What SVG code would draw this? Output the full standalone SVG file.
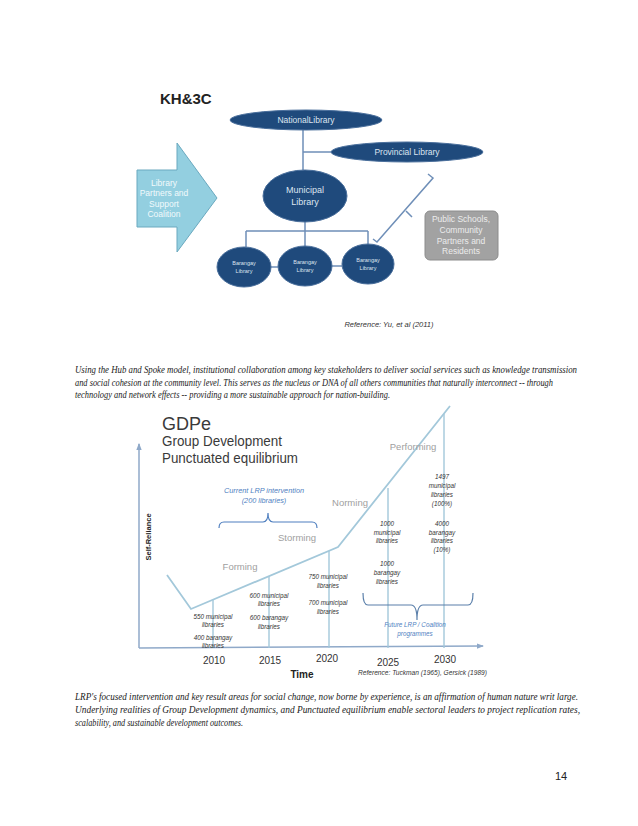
<svg xmlns="http://www.w3.org/2000/svg" width="638" height="826" viewBox="0 0 638 826">
<defs>
<style>
.sans{font-family:"Liberation Sans",Arial,sans-serif}
.ell{fill:#1f4a7c;stroke:#4a6f9c;stroke-width:1}
.elt{font-family:"Liberation Sans",Arial,sans-serif;fill:#dde5f0;text-anchor:middle}
.conn{stroke:#6f8fb8;stroke-width:1.5;fill:none}
.cap{font-family:"Liberation Serif","Times New Roman",serif;font-style:italic;font-size:9.6px;fill:#222}
.stage{font-family:"Liberation Sans",Arial,sans-serif;font-size:9.5px;fill:#a0a0a0;text-anchor:middle}
.note{font-family:"Liberation Sans",Arial,sans-serif;font-style:italic;font-size:6.3px;fill:#333;text-anchor:middle}
.bnote{font-family:"Liberation Sans",Arial,sans-serif;font-style:italic;fill:#4f7fbf;text-anchor:middle}
.yr{font-family:"Liberation Sans",Arial,sans-serif;font-size:10px;fill:#333;text-anchor:middle}
.curve{stroke:#a3c8da;stroke-width:1.8;fill:none}
.vl{stroke:#a3c8da;stroke-width:1.4;fill:none}
.axis{stroke:#8fa9c9;stroke-width:1.5;fill:none}
</style>
<marker id="ah" viewBox="0 0 6 6" refX="5" refY="3" markerWidth="5" markerHeight="5" orient="auto">
<path d="M0,0.8 L6,3 L0,5.2 Z" fill="#8fa9c9"/>
</marker>
</defs>
<rect width="638" height="826" fill="#ffffff"/>

<!-- Top diagram: KH&3C -->
<text x="160" y="104" class="sans" font-size="15" font-weight="bold" fill="#222">KH&amp;3C</text>

<g id="connectors-top">
<path class="conn" d="M303,130 V170 M303,152 H332"/>
<path class="conn" d="M305,222 V231 M246,231 H368 M246,231 V247 M305,231 V246 M368,231 V244"/>
<path class="conn" d="M271,267 H279 M332,266 H342"/>
<path class="conn" d="M373,239 L377,242 L433,178 L428,174 M406,211 L412,217"/>
</g>

<g id="national-library">
<ellipse class="ell" cx="306" cy="120" rx="76" ry="10"/>
<text class="elt" x="306" y="123" font-size="8.5">NationalLibrary</text>
</g>
<g id="provincial-library">
<ellipse class="ell" cx="407" cy="152" rx="76" ry="10"/>
<text class="elt" x="407" y="155" font-size="8.5">Provincial Library</text>
</g>
<g id="municipal-library">
<ellipse class="ell" cx="305" cy="196" rx="42" ry="26"/>
<text class="elt" x="305" y="193" font-size="9">Municipal</text>
<text class="elt" x="305" y="205" font-size="9">Library</text>
</g>
<g id="barangay-1">
<ellipse class="ell" cx="244" cy="267" rx="27" ry="20"/>
<text class="elt" x="244" y="265" font-size="5.5">Barangay</text>
<text class="elt" x="244" y="273" font-size="5.5">Library</text>
</g>
<g id="barangay-2">
<ellipse class="ell" cx="305" cy="266" rx="27" ry="20"/>
<text class="elt" x="305" y="264" font-size="5.5">Barangay</text>
<text class="elt" x="305" y="272" font-size="5.5">Library</text>
</g>
<g id="barangay-3">
<ellipse class="ell" cx="368" cy="264" rx="26" ry="20"/>
<text class="elt" x="368" y="262" font-size="5.5">Barangay</text>
<text class="elt" x="368" y="270" font-size="5.5">Library</text>
</g>

<g id="partners-arrow">
<path d="M137,170 H177 V143 L217,198 L177,252 V227 H137 Z" fill="#93cfe0" stroke="#6aa9bf" stroke-width="1"/>
<text class="elt" x="164" y="186" font-size="8.5" fill="#f2fafc" style="fill:#f2fafc">Library</text>
<text class="elt" x="164" y="196" font-size="8.5" style="fill:#f2fafc">Partners and</text>
<text class="elt" x="164" y="207" font-size="8.5" style="fill:#f2fafc">Support</text>
<text class="elt" x="164" y="217" font-size="8.5" style="fill:#f2fafc">Coalition</text>
</g>

<g id="public-schools">
<rect x="425" y="211" width="73" height="49" rx="5" fill="#a2a2a2" stroke="#8c8c8c" stroke-width="1"/>
<text class="elt" x="461" y="222" font-size="8.5" style="fill:#ececec">Public Schools,</text>
<text class="elt" x="461" y="233" font-size="8.5" style="fill:#ececec">Community</text>
<text class="elt" x="461" y="244" font-size="8.5" style="fill:#ececec">Partners and</text>
<text class="elt" x="461" y="254" font-size="8.5" style="fill:#ececec">Residents</text>
</g>

<text x="389" y="327" class="sans" font-size="7.5" font-style="italic" fill="#333" text-anchor="middle">Reference: Yu, et al (2011)</text>

<!-- Caption 1 -->
<text class="cap" x="75" y="373" textLength="502" lengthAdjust="spacingAndGlyphs">Using the Hub and Spoke model, institutional collaboration among key stakeholders to deliver social services such as knowledge transmission</text>
<text class="cap" x="75" y="386" textLength="478" lengthAdjust="spacingAndGlyphs">and social cohesion at the community level. This serves as the nucleus or DNA of all others communities that naturally interconnect -- through</text>
<text class="cap" x="75" y="398" textLength="315" lengthAdjust="spacingAndGlyphs">technology and network effects --  providing a more sustainable approach for nation-building.</text>

<!-- GDPe chart -->
<text x="162" y="430" class="sans" font-size="18" fill="#3a3a3a">GDPe</text>
<text x="162" y="446" class="sans" font-size="14" fill="#3a3a3a" textLength="120" lengthAdjust="spacingAndGlyphs">Group Development</text>
<text x="162" y="463" class="sans" font-size="14" fill="#3a3a3a" textLength="136" lengthAdjust="spacingAndGlyphs">Punctuated equilibrium</text>

<g id="connectors-chart">
<path class="axis" d="M139,648 V444" marker-end="url(#ah)"/>
<path class="axis" d="M139,648 L483,646" marker-end="url(#ah)"/>
<path class="curve" d="M167,575 L191,609 L338,547 L450,406"/>
<path class="vl" d="M213,600 V648 M269,576 V648 M329,551 V648 M388,488 V648 M444,414 V648"/>
<path d="M219,528 Q219,522 224,522 H263 Q268,522 268,513 Q268,522 273,522 H312 Q317,522 317,528" fill="none" stroke="#4f7fbf" stroke-width="1.2"/>
<path d="M363,593 Q363,605 368,605 H411 Q417,605 417,620 Q417,605 423,605 H468 Q473,605 473,593" fill="none" stroke="#5a7faa" stroke-width="1.2"/>
</g>

<text transform="translate(151,537) rotate(-90)" class="sans" font-size="7.5" font-weight="bold" fill="#222" text-anchor="middle">Self-Reliance</text>

<g id="stages">
<text class="stage" x="240" y="570">Forming</text>
<text class="stage" x="297" y="541">Storming</text>
<text class="stage" x="350" y="506">Norming</text>
<text class="stage" x="413" y="450">Performing</text>
</g>

<g id="current-lrp">
<text class="bnote" x="264" y="493" font-size="7.3">Current LRP intervention</text>
<text class="bnote" x="264" y="503" font-size="7.3">(200 libraries)</text>
</g>
<g id="future-lrp">
<text class="bnote" x="415" y="627" font-size="6.3">Future LRP / Coalition</text>
<text class="bnote" x="415" y="636" font-size="6.3">programmes</text>
</g>

<g id="notes-2010">
<text class="note" x="213" y="619">550 municipal</text>
<text class="note" x="213" y="627">libraries</text>
<text class="note" x="213" y="640">400 barangay</text>
<text class="note" x="213" y="648">libraries</text>
</g>
<g id="notes-2015">
<text class="note" x="269" y="598">600 municipal</text>
<text class="note" x="269" y="606">libraries</text>
<text class="note" x="269" y="620">600 barangay</text>
<text class="note" x="269" y="629">libraries</text>
</g>
<g id="notes-2020">
<text class="note" x="328" y="579">750 municipal</text>
<text class="note" x="328" y="588">libraries</text>
<text class="note" x="328" y="605">700 municipal</text>
<text class="note" x="328" y="614">libraries</text>
</g>
<g id="notes-2025">
<text class="note" x="387" y="526">1000</text>
<text class="note" x="387" y="535">municipal</text>
<text class="note" x="387" y="543">libraries</text>
<text class="note" x="387" y="566">1000</text>
<text class="note" x="387" y="575">barangay</text>
<text class="note" x="387" y="584">libraries</text>
</g>
<g id="notes-2030">
<text class="note" x="442" y="479">1497</text>
<text class="note" x="442" y="488">municipal</text>
<text class="note" x="442" y="497">libraries</text>
<text class="note" x="442" y="506">(100%)</text>
<text class="note" x="442" y="526">4000</text>
<text class="note" x="442" y="535">barangay</text>
<text class="note" x="442" y="543">libraries</text>
<text class="note" x="442" y="552">(10%)</text>
</g>

<g id="years">
<text class="yr" x="214" y="664">2010</text>
<text class="yr" x="270" y="664">2015</text>
<text class="yr" x="327" y="662">2020</text>
<text class="yr" x="388" y="666">2025</text>
<text class="yr" x="445" y="663">2030</text>
</g>
<text x="302" y="678" class="sans" font-size="10" font-weight="bold" fill="#222" text-anchor="middle">Time</text>
<text x="358" y="675" class="sans" font-size="6.4" font-style="italic" fill="#333" textLength="129" lengthAdjust="spacingAndGlyphs">Reference:  Tuckman (1965), Gersick (1989)</text>

<!-- Caption 2 -->
<text class="cap" x="75" y="700" textLength="503" lengthAdjust="spacingAndGlyphs">LRP's focused intervention and key result areas for social change, now borne by experience, is an affirmation of human nature writ large.</text>
<text class="cap" x="75" y="713" textLength="505" lengthAdjust="spacingAndGlyphs">Underlying realities of Group Development dynamics, and Punctuated equilibrium enable sectoral leaders to project replication rates,</text>
<text class="cap" x="75" y="726" textLength="168" lengthAdjust="spacingAndGlyphs">scalability, and sustainable development outcomes.</text>

<text x="555" y="780" class="sans" font-size="11" fill="#222">14</text>
</svg>
